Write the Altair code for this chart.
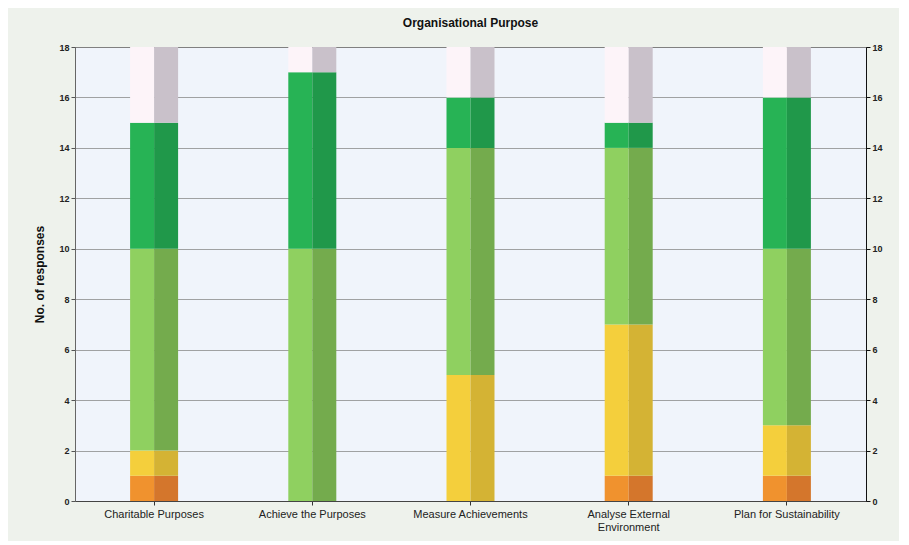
import altair as alt
import pandas as pd

categories = ["Charitable Purposes", "Achieve the Purposes", "Measure Achievements",
              "Analyse External Environment", "Plan for Sustainability"]
orange = [1, 0, 0, 1, 1]
yellow = [1, 0, 5, 6, 2]
light_green = [8, 10, 9, 7, 7]
dark_green = [5, 7, 2, 1, 6]
remainder = [3, 1, 2, 3, 2]

segments = ["orange", "yellow", "lightgreen", "darkgreen", "rest"]
series = [orange, yellow, light_green, dark_green, remainder]
colors_left = ["#f0922e", "#f4cf3c", "#8fd060", "#27b355", "#fdf4f9"]
colors_right = ["#d4762c", "#d4b334", "#74ab4d", "#20984a", "#c9c1ca"]

rows = []
for i, cat in enumerate(categories):
    base = 0
    for s, vals in zip(segments, series):
        v = vals[i]
        rows.append({"category": cat, "seg": s, "start": base, "end": base + v})
        base += v
df = pd.DataFrame(rows)

xscale = alt.Scale(domain=categories, paddingInner=0.7, paddingOuter=0.35)
xaxis = alt.Axis(labelAngle=0, labelFontSize=11, labelColor="#222",
                 labelFont="Liberation Sans", domainColor="#444",
                 tickColor="#333", tickSize=4, labelPadding=3,
                 labelExpr="datum.label == 'Analyse External Environment' ? ['Analyse External', 'Environment'] : datum.label")
yscale = alt.Scale(domain=[0, 18], nice=False)
yaxis = alt.Axis(values=list(range(0, 19, 2)), labelFontSize=9, labelFontWeight="bold",
                 labelColor="#222", titleFontSize=12, titleFontWeight="bold",
                 titleColor="#111", titlePadding=12, gridColor="#8c8c8c",
                 gridWidth=0.8, domainColor="#666", tickColor="#555",
                 tickSize=4, titleFont="Liberation Sans", labelFont="Liberation Sans")

base = alt.Chart(df)

left = base.mark_bar(width=24, xOffset=-12).encode(
    x=alt.X("category:N", title=None, scale=xscale, axis=xaxis),
    y=alt.Y("start:Q", scale=yscale, title="No. of responses", axis=yaxis),
    y2="end:Q",
    color=alt.Color("seg:N", scale=alt.Scale(domain=segments, range=colors_left), legend=None),
)
right_half = base.mark_bar(width=24, xOffset=12).encode(
    x=alt.X("category:N", title=None, scale=xscale, axis=xaxis),
    y=alt.Y("start:Q", scale=yscale, axis=None),
    y2="end:Q",
    fill=alt.Fill("seg:N", scale=alt.Scale(domain=segments, range=colors_right), legend=None),
)

right_axis = base.mark_tick(opacity=0).encode(
    x=alt.X("category:N", title=None, scale=xscale, axis=xaxis),
    y=alt.Y("end:Q", scale=yscale, title=None,
            axis=alt.Axis(orient="right", values=list(range(0, 19, 2)), labelFontSize=9,
                          labelFontWeight="bold", labelColor="#222", grid=False,
                          domainColor="#111", tickColor="#111", tickSize=4,
                          labelFont="Liberation Sans")),
)

chart = alt.layer(left, right_half, right_axis).resolve_scale(
    y="independent", fill="independent", color="independent"
).properties(
    width=791, height=454,
    title=alt.TitleParams("Organisational Purpose", fontSize=12, fontWeight="bold",
                          font="Liberation Sans", color="#111", offset=13),
).configure(background="#eef2ec", padding={"left": 25, "top": 9, "right": 16, "bottom": 9}
).configure_view(fill="#f0f4fb", stroke="#555", strokeWidth=1)

chart.save("out.html", embed_options={"renderer": "svg", "actions": False})
